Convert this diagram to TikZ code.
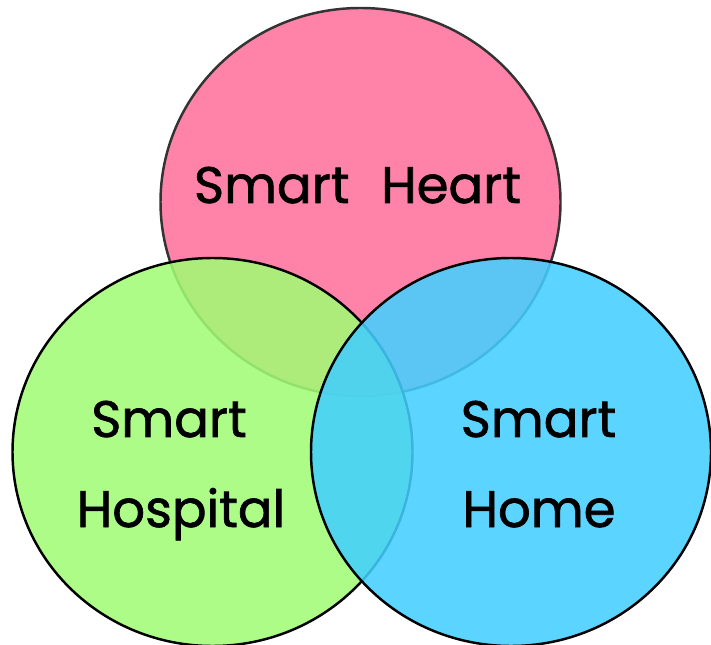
\documentclass[tikz,border=0pt]{standalone}
\usepackage{fontspec}
\setmainfont{Poppins}[BoldFont=Poppins, BoldFeatures={FakeBold=1.3}]
\usetikzlibrary{positioning}

\tikzset{
  setcircle/.style={line width=0.7pt, fill opacity=0.87, x radius=2.0, y radius=1.94},
  setlabel/.style={anchor=base, inner sep=0pt, font=\fontsize{14.6}{18}\selectfont\bfseries}
}
\definecolor{heartpink}{HTML}{FF82A9}
\definecolor{hospgreen}{HTML}{A1FC75}
\definecolor{homeblue}{HTML}{43CFFF}

\begin{document}
\begin{tikzpicture}
        \useasboundingbox (0, 0) rectangle (7.11, -6.45);

        \draw [setcircle, fill=heartpink, fill opacity=1, draw=black!80] (3.605, -2.02) ellipse [];
        \draw [setcircle, fill=hospgreen, draw=black] (2.125, -4.52) ellipse [];
        \draw [setcircle, fill=homeblue, draw=black] (5.11, -4.52) ellipse [];

        \node [setlabel] (heart) at (3.575, -2.03) {Smart\hspace{0.35em} Heart};
        \node [setlabel] (hosp1) at (1.69, -4.37) {Smart};
        \node [setlabel] (hosp2) at (1.81, -5.27) {Hospital};
        \node [setlabel] (home1) at (5.385, -4.37) {Smart};
        \node [setlabel] (home2) at (5.39, -5.27) {Home};
    \end{tikzpicture}
\end{document}
